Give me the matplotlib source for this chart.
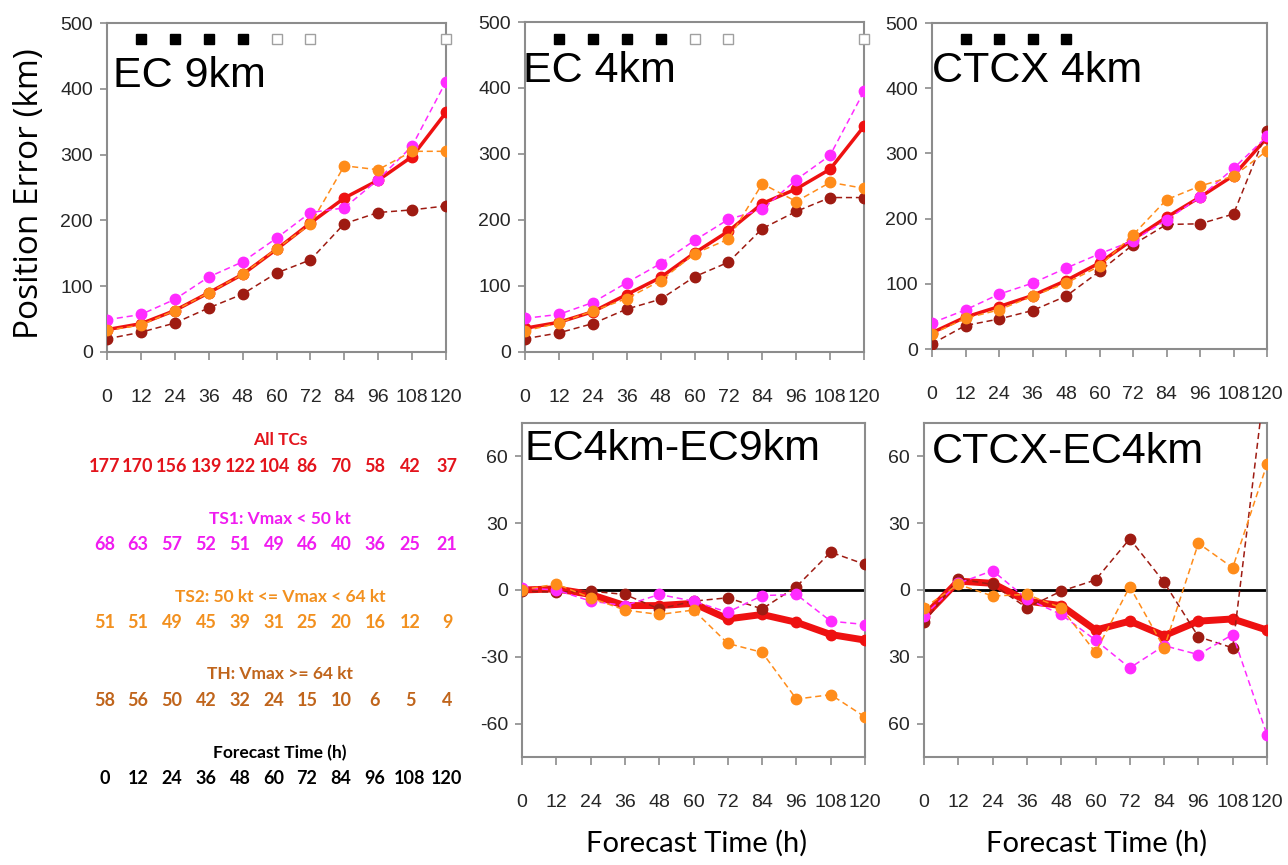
import matplotlib
matplotlib.use("Agg")
import matplotlib.pyplot as plt
import numpy as np

W, H = 1288, 865
DPI = 100

hours = [0, 12, 24, 36, 48, 60, 72, 84, 96, 108, 120]
hour_labels = ["0", "12", "24", "36", "48", "60", "72", "84", "96", "108", "120"]

# ---- Top panels: position error (km) ----
ec9_all = [34, 43, 63, 90, 118, 156, 196, 234, 261, 297, 364]
ec9_ts1 = [49, 57, 80, 114, 137, 173, 212, 219, 262, 313, 411]
ec9_ts2 = [33, 41, 63, 90, 118, 157, 194, 283, 277, 305, 305]
ec9_th = [20, 30, 44, 67, 88, 120, 140, 195, 212, 216, 222]

ec4_all = [36, 45, 61, 87, 113, 150, 183, 225, 247, 277, 342]
ec4_ts1 = [51, 57, 75, 105, 134, 169, 201, 216, 261, 298, 395]
ec4_ts2 = [32, 44, 62, 81, 108, 149, 171, 255, 228, 257, 248]
ec4_th = [20, 29, 43, 65, 80, 114, 136, 187, 213, 234, 234]

ctcx_all = [25, 49, 65, 82, 105, 132, 168, 202, 233, 266, 324]
ctcx_ts1 = [40, 60, 84, 101, 124, 146, 166, 198, 233, 277, 326]
ctcx_ts2 = [23, 47, 60, 81, 101, 127, 175, 229, 250, 265, 304]
ctcx_th = [8, 36, 46, 59, 81, 119, 160, 191, 192, 207, 335]

# ---- Bottom panels: differences (km) ----
d1_all = [0, 0.5, -2, -7, -7, -6, -13, -11, -14.5, -20, -22.5]
d1_ts1 = [1, 0, -5, -7, -2, -5, -10, -2.5, -2, -14, -15.5]
d1_ts2 = [0, 2.7, -3.5, -9, -11, -9, -24, -28, -49, -47, -57]
d1_th = [-0.5, -1, -0.5, -2, -8.5, -5, -3.5, -8.5, 1.5, 17, 11.5]

d2_all = [-12, 4, 3, -5, -7, -18, -14, -20.5, -14, -13, -18]
d2_ts1 = [-11.5, 3, 8.7, -4, -11, -22.5, -35, -25, -29, -20, -65]
d2_ts2 = [-8, 2.5, -2.7, -2, -8, -28, 1.5, -26, 21, 10, 56.5]
d2_th = [-14.5, 5, 2.5, -8, -0.5, 4.5, 23, 3.5, -21, -26, 101]

# significance squares (filled / open)
sq_filled_x = [12, 24, 36, 48]
sq_open_x = [60, 72, 120]
sq_y = 475

# ---- Sample size table ----
n_all = ["177", "170", "156", "139", "122", "104", "86", "70", "58", "42", "37"]
n_ts1 = ["68", "63", "57", "52", "51", "49", "46", "40", "36", "25", "21"]
n_ts2 = ["51", "51", "49", "45", "39", "31", "25", "20", "16", "12", "9"]
n_th = ["58", "56", "50", "42", "32", "24", "15", "10", "6", "5", "4"]
table_titles = ["All TCs", "TS1: Vmax < 50 kt", "TS2: 50 kt <= Vmax < 64 kt",
                "TH: Vmax >= 64 kt", "Forecast Time (h)"]

C_ALL = "#ee1111"
C_TS1 = "#ff2bff"
C_TS2 = "#ff8c1a"
C_TH = "#9e1b12"
C_TH_TXT = "#c0651c"
C_TXT_ALL = "#e3141c"
C_TXT_TS1 = "#f01cf0"
C_TXT_TS2 = "#f2901f"

SPINE = "#8c8c8c"
TICKC = "#262626"

fig = plt.figure(figsize=(W / DPI, H / DPI), dpi=DPI)


def rect(l, r, t, b):
    return [l / W, 1 - b / H, (r - l) / W, (b - t) / H]


def style_axes(ax, ylim, yticks, yticklabels=None):
    ax.set_xlim(0, 120)
    ax.set_ylim(*ylim)
    ax.set_xticks(hours)
    ax.set_xticklabels(hour_labels, fontsize=14, family="Liberation Sans", color=TICKC)
    ax.set_yticks(yticks)
    if yticklabels is None:
        yticklabels = [str(v) for v in yticks]
    ax.set_yticklabels(yticklabels, fontsize=14, family="Liberation Sans", color=TICKC)
    for s in ax.spines.values():
        s.set_color(SPINE)
        s.set_linewidth(1.5)
    ax.tick_params(axis="x", direction="out", length=5.5, width=1.2, color=SPINE, pad=21)
    ax.tick_params(axis="y", direction="out", length=5, width=1.2, color=SPINE, pad=5)


def plot_series(ax, all_, ts1, ts2, th, thick):
    lw_main = 5 if thick else 2.5
    ax.plot(hours, all_, color=C_ALL, lw=lw_main, marker="o", ms=7.5, zorder=3)
    dash = (0, (4, 2.5))
    ax.plot(hours, th, color=C_TH, lw=1.1, ls=dash, marker="o", ms=7.5, zorder=4)
    ax.plot(hours, ts1, color=C_TS1, lw=1.1, ls=dash, marker="o", ms=7.5, zorder=4)
    ax.plot(hours, ts2, color=C_TS2, lw=1.1, ls=dash, marker="o", ms=7.5, zorder=4)


def squares(ax, open_x):
    ax.plot(sq_filled_x, [sq_y] * len(sq_filled_x), ls="none", marker="s", ms=7,
            mfc="black", mec="black", clip_on=False, zorder=5)
    if open_x:
        ax.plot(open_x, [sq_y] * len(open_x), ls="none", marker="s", ms=7,
                mfc="white", mec="#a0a0a0", mew=1.0, clip_on=False, zorder=5)


# Top-left
ax1 = fig.add_axes(rect(107, 446, 23, 352))
plot_series(ax1, ec9_all, ec9_ts1, ec9_ts2, ec9_th, False)
style_axes(ax1, (0, 500), [0, 100, 200, 300, 400, 500])
squares(ax1, sq_open_x)

# Top-middle
ax2 = fig.add_axes(rect(525, 864, 22, 352))
plot_series(ax2, ec4_all, ec4_ts1, ec4_ts2, ec4_th, False)
style_axes(ax2, (0, 500), [0, 100, 200, 300, 400, 500])
squares(ax2, sq_open_x)

# Top-right
ax3 = fig.add_axes(rect(932, 1267, 23, 349))
plot_series(ax3, ctcx_all, ctcx_ts1, ctcx_ts2, ctcx_th, False)
style_axes(ax3, (0, 500), [0, 100, 200, 300, 400, 500])
squares(ax3, [])

# Bottom-middle
ax4 = fig.add_axes(rect(522, 865, 423, 757))
ax4.axhline(0, color="black", lw=2, zorder=2)
plot_series(ax4, d1_all, d1_ts1, d1_ts2, d1_th, True)
style_axes(ax4, (-75, 75), [60, 30, 0, -30, -60])

# Bottom-right
ax5 = fig.add_axes(rect(924, 1267, 423, 757))
ax5.axhline(0, color="black", lw=2, zorder=2)
plot_series(ax5, d2_all, d2_ts1, d2_ts2, d2_th, True)
style_axes(ax5, (-75, 75), [60, 30, 0, -30, -60], ["60", "30", "0", "30", "60"])

# Panel titles
title_kw = dict(fontsize=31, family="Liberation Sans", color="black", va="baseline", ha="left")
fig.text(113 / W, 1 - 87 / H, "EC 9km", **title_kw)
fig.text(523 / W, 1 - 82 / H, "EC 4km", **title_kw)
fig.text(932 / W, 1 - 82 / H, "CTCX 4km", **title_kw)
fig.text(525 / W, 1 - 460 / H, "EC4km-EC9km", **title_kw)
fig.text(932 / W, 1 - 463 / H, "CTCX-EC4km", **title_kw)

# Axis labels
fig.text(30 / W, 1 - 194 / H, "Position Error (km)", rotation=90, fontsize=24,
         family="Open Sans", ha="center", va="center", color="black")
fig.text(697 / W, 1 - 843 / H, "Forecast Time (h)", fontsize=21,
         family="Lato", ha="center", va="center", color="black")
fig.text(1097 / W, 1 - 843 / H, "Forecast Time (h)", fontsize=21,
         family="Lato", ha="center", va="center", color="black")

# Sample size table
col_x = [105, 138, 172, 206, 240, 274, 307, 341, 375, 410, 447]
rows = [
    (table_titles[0], n_all, C_TXT_ALL, 440, 467),
    (table_titles[1], n_ts1, C_TXT_TS1, 519, 545),
    (table_titles[2], n_ts2, C_TXT_TS2, 597, 623),
    (table_titles[3], n_th, C_TH_TXT, 674, 700),
    (table_titles[4], hour_labels, "black", 753, 778),
]
for title, nums, col, ty, ny in rows:
    fig.text(280 / W, 1 - ty / H, title, fontsize=12.5, family="Lato", weight="bold",
             color=col, ha="center", va="center")
    for x, s in zip(col_x, nums):
        fig.text(x / W, 1 - ny / H, s, fontsize=13, family="Lato", weight="bold",
                 color=col, ha="center", va="center")

fig.savefig("out.png", dpi=DPI)
